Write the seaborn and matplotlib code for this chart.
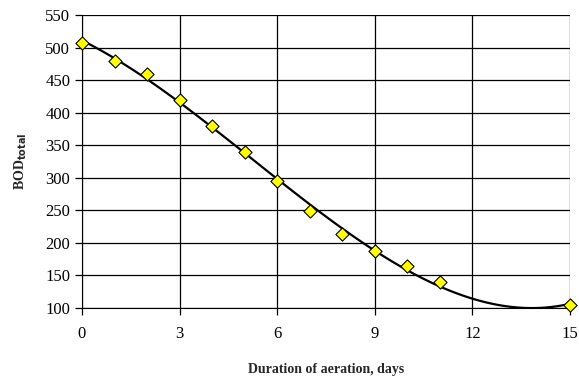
import numpy as np
import pandas as pd
import matplotlib
matplotlib.use('Agg')
import matplotlib.pyplot as plt
import seaborn as sns

days = [0, 1, 2, 3, 4, 5, 6, 7, 8, 9, 10, 11, 15]
bod_total = [507, 480, 460, 420, 380, 340, 295, 249, 214, 188, 165, 140, 104]
x_ticks = [0, 3, 6, 9, 12, 15]
y_ticks = [100, 150, 200, 250, 300, 350, 400, 450, 500, 550]

df = pd.DataFrame({'days': days, 'bod': bod_total})

sns.set_style('white')
plt.rcParams['font.family'] = ['Liberation Serif', 'DejaVu Serif']
plt.rcParams['xtick.bottom'] = True
plt.rcParams['ytick.left'] = True

fig = plt.figure(figsize=(5.79, 3.76), dpi=100)
ax = fig.add_axes([82 / 579, 1 - 308 / 376, (570 - 82) / 579, (308 - 15) / 376])

# polynomial trend line, as in the spreadsheet
sns.regplot(data=df, x='days', y='bod', order=3, ci=None, scatter=False,
            truncate=True, ax=ax, line_kws={'color': 'black', 'lw': 1.6})
sns.scatterplot(data=df, x='days', y='bod', ax=ax, marker='D', s=45,
                color='#ffff00', edgecolor='black', linewidth=0.8, zorder=5,
                clip_on=False)

ax.set_xlim(0, 15)
ax.set_ylim(100, 550)
ax.set_xticks(x_ticks)
ax.set_yticks(y_ticks)
ax.grid(True, color='black', lw=0.9)
ax.set_axisbelow(True)
for s in ax.spines.values():
    s.set_visible(False)
ax.spines['left'].set_visible(True)
ax.spines['bottom'].set_visible(True)
ax.spines['left'].set_color('black')
ax.spines['bottom'].set_color('black')
ax.tick_params(axis='both', direction='out', length=5, width=0.9, color='black',
               labelsize=12, labelcolor='black')
ax.tick_params(axis='x', pad=8)

ax.set_xlabel('Duration of aeration, days', fontsize=10, fontweight='bold', labelpad=15)
ax.set_ylabel(r'BOD$_{\mathbf{total}}$', fontsize=10, fontweight='bold', labelpad=12)

fig.savefig('out.png', dpi=100)
